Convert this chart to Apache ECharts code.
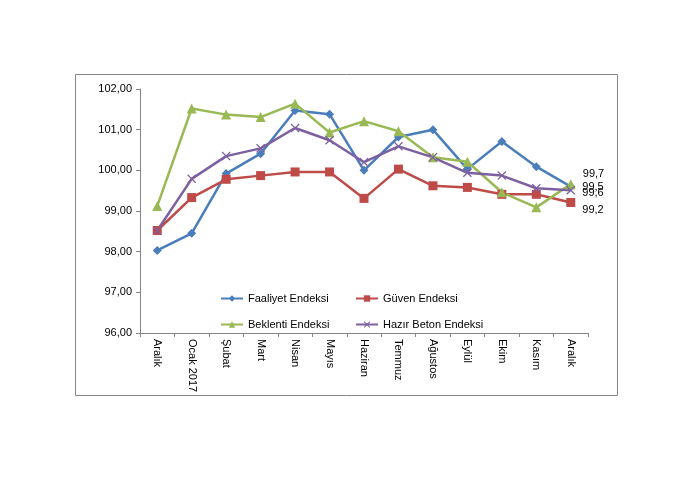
<!DOCTYPE html>
<html><head><meta charset="utf-8">
<script src="https://cdn.jsdelivr.net/npm/echarts@6/dist/echarts.min.js"></script>
<style>html,body{margin:0;padding:0;background:#fff}#c{width:693px;height:486px}</style>
</head><body><div id="c"></div>
<script>
var categories = ['Aralık','Ocak 2017','Şubat','Mart','Nisan','Mayıs','Haziran','Temmuz','Ağustos','Eylül','Ekim','Kasım','Aralık'];
var faaliyet = [98.03,98.45,99.92,100.41,101.47,101.38,100.00,100.82,101.00,100.03,100.71,100.09,99.60];
var guven    = [98.52,99.33,99.78,99.87,99.96,99.96,99.31,100.03,99.62,99.58,99.41,99.41,99.21];
var beklenti = [99.12,101.52,101.37,101.31,101.64,100.93,101.21,100.96,100.32,100.21,99.46,99.09,99.66];
var hazir    = [98.52,99.79,100.35,100.54,101.04,100.74,100.20,100.59,100.32,99.94,99.87,99.56,99.51];
var yTicks = [96,97,98,99,100,101,102];

var FONT = 'Liberation Sans';
function fmt2(v){return v.toFixed(2).replace('.',',');}
function fmt1(v){return v.toFixed(1).replace('.',',');}
function withLastLabel(arr, offsetY){
  return arr.map(function(v,i){
    if(i===arr.length-1){
      return {value:v,label:{show:true,position:'right',distance:7,offset:[0,offsetY],
        formatter:function(p){return fmt1(p.value);},color:'#000',fontFamily:FONT,fontSize:11}};
    }
    return v;
  });
}
var xSym = 'path://M0,1L1,0L5,4L9,0L10,1L6,5L10,9L9,10L5,6L1,10L0,9L4,5Z';
function lg(name,left,top){
  return {data:[name],left:left,top:top,padding:0,itemWidth:22,itemHeight:8,
    textStyle:{fontSize:11,color:'#000',fontFamily:FONT}};
}
var chart = echarts.init(document.getElementById('c'));
chart.setOption({
  animation:false,
  backgroundColor:'#fff',
  textStyle:{fontFamily:FONT},
  graphic:[{type:'rect',shape:{x:75.5,y:74.5,width:542,height:321},style:{fill:'none',stroke:'#868686',lineWidth:1},silent:true}],
  grid:{left:140,top:89,right:105,bottom:153,containLabel:false},
  legend:[
    lg('Faaliyet Endeksi',220,293),
    lg('Güven Endeksi',355,293),
    lg('Beklenti Endeksi',220,319),
    lg('Hazır Beton Endeksi',355,319)
  ],
  xAxis:{type:'category',data:categories,boundaryGap:true,
    axisLine:{lineStyle:{color:'#868686'}},
    axisTick:{show:true,length:4,lineStyle:{color:'#868686'}},
    axisLabel:{rotate:-90,color:'#000',fontSize:11,fontFamily:FONT,margin:6,interval:0}},
  yAxis:{type:'value',min:yTicks[0],max:yTicks[yTicks.length-1],interval:1,
    axisLine:{show:true,lineStyle:{color:'#868686'}},
    axisTick:{show:true,length:4,lineStyle:{color:'#868686'}},
    splitLine:{show:false},
    axisLabel:{formatter:fmt2,color:'#000',fontSize:11,fontFamily:FONT,margin:8}},
  series:[
    {name:'Faaliyet Endeksi',type:'line',data:withLastLabel(faaliyet,6),symbol:'diamond',symbolSize:9,
      lineStyle:{color:'#4A7EBB',width:2.5},itemStyle:{color:'#4A7EBB'}},
    {name:'Güven Endeksi',type:'line',data:withLastLabel(guven,8),symbol:'rect',symbolSize:9,
      lineStyle:{color:'#BE4B48',width:2.5},itemStyle:{color:'#BE4B48'}},
    {name:'Beklenti Endeksi',type:'line',data:withLastLabel(beklenti,-10),symbol:'triangle',symbolSize:10,
      lineStyle:{color:'#98B954',width:2.5},itemStyle:{color:'#98B954'}},
    {name:'Hazır Beton Endeksi',type:'line',data:withLastLabel(hazir,-3),symbol:xSym,symbolSize:9,
      lineStyle:{color:'#7D60A0',width:2.5},itemStyle:{color:'#7D60A0'}}
  ]
});
</script></body></html>
